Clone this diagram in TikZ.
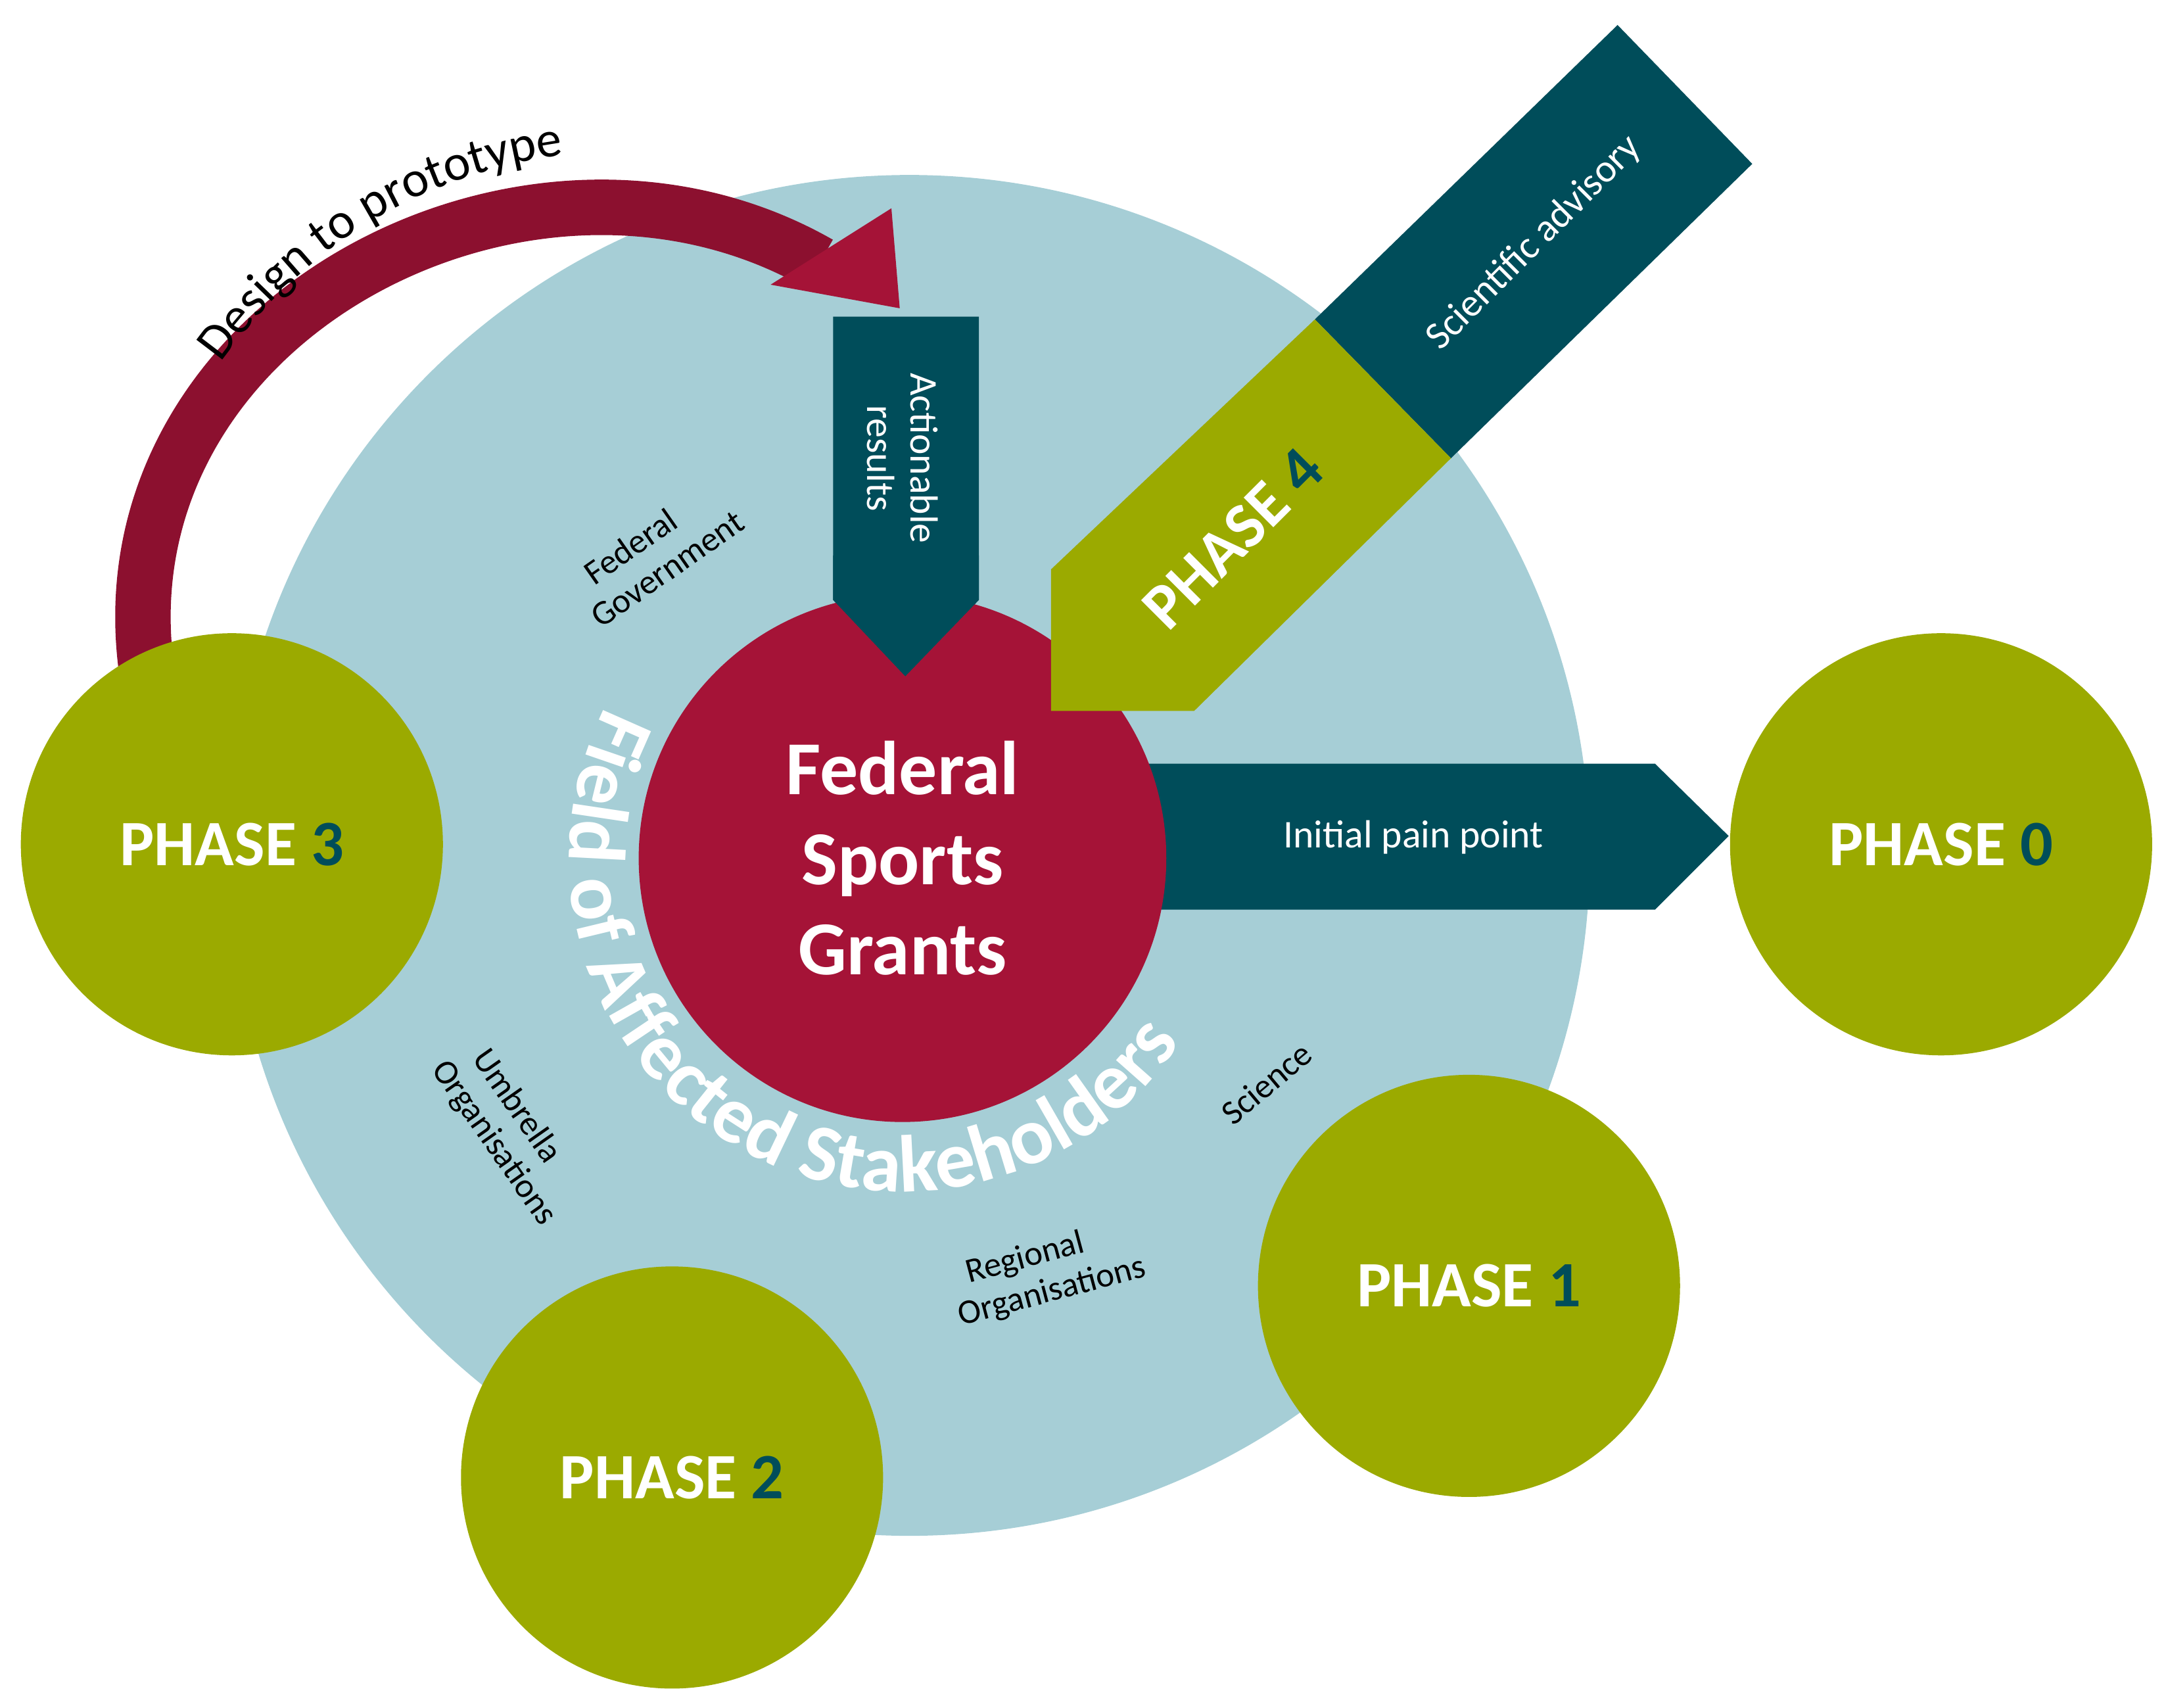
\documentclass[tikz,border=0pt]{standalone}
\usepackage{fontspec}
\setmainfont{Carlito}
\usepackage{xcolor}
\usetikzlibrary{positioning,decorations.text,calc}
\definecolor{fieldblue}{RGB}{166,206,214}
\definecolor{darkteal}{RGB}{0,77,90}
\definecolor{phasegreen}{RGB}{155,170,0}
\definecolor{grantred}{RGB}{165,19,55}
\begin{document}
\begin{tikzpicture}[x=0.02112cm,y=-0.02112cm,
        PhaseStyle/.style = { circle, fill = phasegreen, minimum size = 304*0.02112cm,
          inner sep = 0pt, text = white, font = \fontsize{28}{30}\selectfont\bfseries },
        LabelStyle/.style = { align = center, font = \fontsize{15}{17}\selectfont },
        ArrowText/.style = { align = center, text = white, font = \fontsize{17}{19}\selectfont }
      ]
      \useasboundingbox (0,0) rectangle (1560,1230);
      % field of stakeholders
      \node[circle, fill = fieldblue, minimum size = 980*0.02112cm, inner sep = 0pt] (field) at (655,616) {};
      % design to prototype
      \draw[grantred!85!black, line width = 24pt] (105,478) .. controls (75,230) and (380,70) .. (590,190);
      \fill[grantred] (648,222) -- (642,150) -- (555,205) -- cycle;
      \path[decorate, decoration = {text along path, text align = center,
          text = {|\fontsize{22}{24}\selectfont|Design to prototype}}]
        (140,290) .. controls (220,160) and (330,115) .. (440,108);
      % actionable results
      \fill[darkteal] (600,228) -- (705,228) -- (705,432) -- (652,487) -- (600,432) -- cycle;
      % initial pain point
      \fill[darkteal] (800,550) -- (1192,550) -- (1245,602) -- (1192,655) -- (800,655) -- cycle;
      % grants
      \node[circle, fill = grantred, minimum size = 380*0.02112cm, inner sep = 0pt, text = white,
        align = center, font = \fontsize{33}{39}\selectfont\bfseries] (grants) at (650,618)
        {Federal\\Sports\\Grants};
      \fill[darkteal] (600,400) -- (705,400) -- (705,432) -- (652,487) -- (600,432) -- cycle;
      \node[ArrowText, rotate = -90] (actres) at (650,330) {Actionable\\results};
      \node[ArrowText] (pain) at (1018,603) {Initial pain point};
      % phase 4 arrow
      \fill[darkteal] (947,230) -- (1165,18) -- (1262,118) -- (1045,330) -- cycle;
      \fill[phasegreen] (947,230) -- (1045,330) -- (860,512) -- (757,512) -- (757,410) -- cycle;
      \node[ArrowText, rotate = 45] (advisory) at (1105,175) {Scientific advisory};
      \node[rotate = 45, text = white, font = \fontsize{28}{30}\selectfont\bfseries] (phasefour)
        at (888,388) {PHASE \textcolor{darkteal}{4}};
      % stakeholder labels
      \path[decorate, decoration = {text along path, text align = left,
          text color = white, text = {|\fontsize{35}{37}\selectfont\bfseries|Field of Affected Stakeholders}}]
        (650,618) ++(207:240) arc[start angle = 207, end angle = 15, radius = 240];
      \node[LabelStyle, rotate = 35] (fedgov) at (462,405) {Federal\\\quad Government};
      \node[LabelStyle, rotate = -55] (umbrella) at (360,805) {Umbrella\\\quad Organisations};
      \node[LabelStyle, rotate = 15] (regional) at (742,920) {Regional\\\quad Organisations};
      \node[LabelStyle, rotate = 40] (science) at (912,780) {Science};
      % phases
      \node[PhaseStyle] (p3) at (167,608) {PHASE \textcolor{darkteal}{3}};
      \node[PhaseStyle] (p0) at (1398,608) {PHASE \textcolor{darkteal}{0}};
      \node[PhaseStyle] (p1) at (1058,926) {PHASE \textcolor{darkteal}{1}};
      \node[PhaseStyle] (p2) at (484,1064) {PHASE \textcolor{darkteal}{2}};
    \end{tikzpicture}
\end{document}
